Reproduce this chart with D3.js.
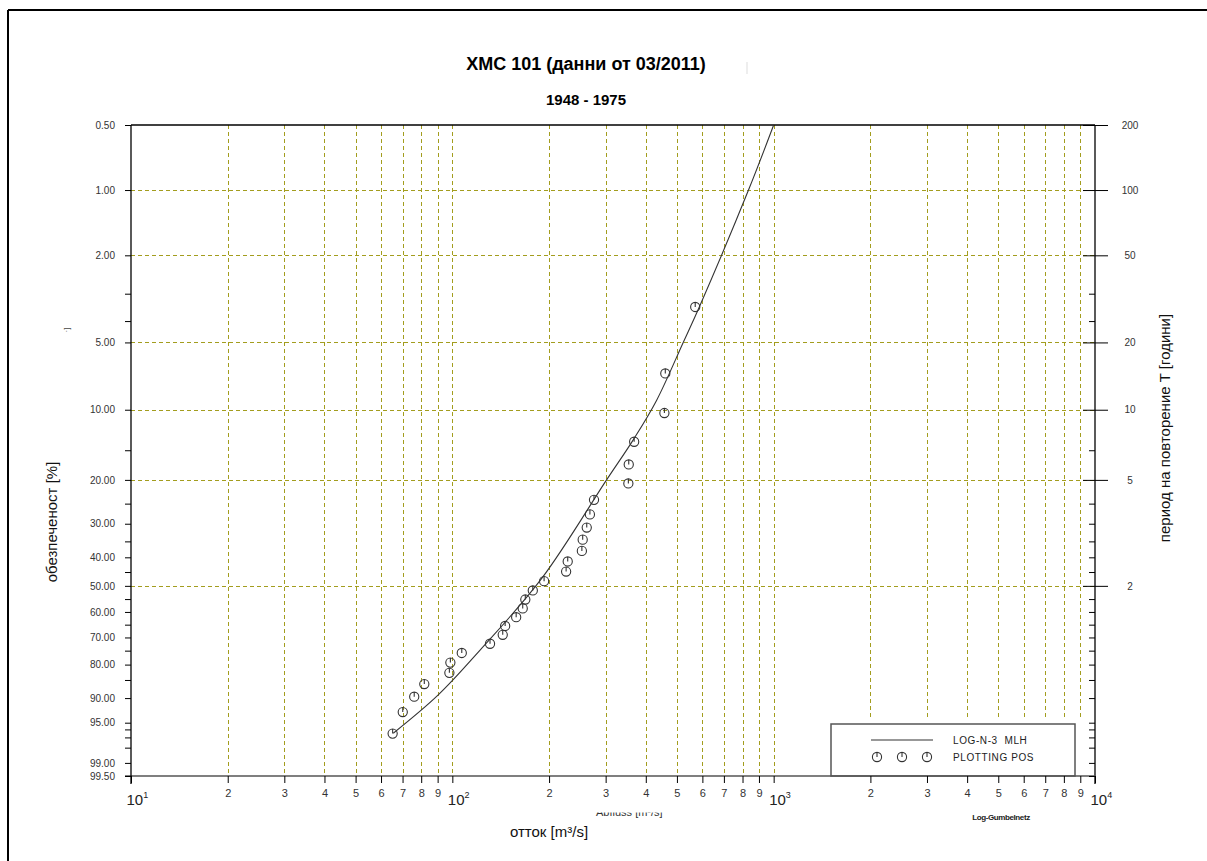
<!DOCTYPE html>
<html>
<head>
<meta charset="utf-8">
<script src="https://cdn.jsdelivr.net/npm/d3@7/dist/d3.min.js"></script>
<style>
body { margin: 0; background: #fff; }
svg { display: block; font-family: "Liberation Sans", Arial, sans-serif; }
</style>
</head>
<body>
<div id="chart"></div>
<script>
// observed annual maxima, plotting positions (exceedance %) and discharges [m3/s]
var obsProb = [3.45, 6.90, 10.34, 13.79, 17.24, 20.69, 24.14, 27.59, 31.03, 34.48, 37.93, 41.38, 44.83, 48.28,
    51.72, 55.17, 58.62, 62.07, 65.52, 68.97, 72.41, 75.86, 79.31, 82.76, 86.21, 89.66, 93.10, 96.55];
var obsQ = [570, 460, 457, 368, 354, 353, 276, 268, 262, 254.5, 253, 228.6, 226, 193,
    178, 168.7, 165.6, 158, 146, 143.5, 131, 107, 98.6, 97.9, 81.8, 76.1, 70.1, 65.2];

// fitted LOG-N-3 MLH curve
var fitQ = [65.5, 90.4, 122, 190, 302, 366, 432, 523, 587, 835, 1000];
var fitProb = [96.5, 89.2, 74.8, 47.2, 20, 13.5, 9.1, 5, 3.45, 1, 0.5];

var probLabels = [0.5, 1, 2, 5, 10, 20, 30, 40, 50, 60, 70, 80, 90, 95, 99, 99.5];
var probMinor = [3, 4, 15, 25, 35, 45, 55, 65, 75, 85, 96, 97, 98];
var probGrid = [1, 2, 5, 10, 20, 50];
var returnPeriods = [200, 100, 50, 20, 10, 5, 2];
var decades = [10, 100, 1000, 10000];
var digits = [2, 3, 4, 5, 6, 7, 8, 9];

var W = 1207, H = 861;
var plotL = 131, plotR = 1095, plotT = 125, plotB = 776;
var gridColor = "#a39d1e";

function gumbel(p) {
    return -Math.log(-Math.log(1 - p / 100));
}

var x = d3.scaleLog().domain([10, 10000]).range([plotL, plotR]);
var y = d3.scaleLinear().domain([gumbel(0.5), gumbel(99.5)]).range([plotT, plotB]);

var svg = d3.select("#chart").append("svg")
    .attr("width", W)
    .attr("height", H);

// outer frame
svg.append("line").attr("x1", 8).attr("x2", W).attr("y1", 10).attr("y2", 10)
    .attr("stroke", "#000").attr("stroke-width", 2);
svg.append("line").attr("x1", 8).attr("x2", 8).attr("y1", 10).attr("y2", H)
    .attr("stroke", "#000").attr("stroke-width", 2);

// vertical grid
var qGrid = [];
decades.slice(0, 3).forEach(function(d, i) {
    if (i > 0) qGrid.push(d);
    digits.forEach(function(k) { qGrid.push(d * k); });
});
qGrid.push(1000);

svg.append("g")
    .attr("shape-rendering", "crispEdges")
    .selectAll("line")
    .data(qGrid)
    .enter().append("line")
    .attr("x1", function(d) { return Math.round(x(d)) + 0.5; })
    .attr("x2", function(d) { return Math.round(x(d)) + 0.5; })
    .attr("y1", plotT)
    .attr("y2", function(d) { return x(d) > 830 ? 720 : plotB; })
    .attr("stroke", gridColor)
    .attr("stroke-dasharray", "4,3");

// horizontal grid
svg.append("g")
    .attr("shape-rendering", "crispEdges")
    .selectAll("line")
    .data(probGrid)
    .enter().append("line")
    .attr("x1", plotL)
    .attr("x2", plotR)
    .attr("y1", function(d) { return Math.round(y(gumbel(d))) + 0.5; })
    .attr("y2", function(d) { return Math.round(y(gumbel(d))) + 0.5; })
    .attr("stroke", gridColor)
    .attr("stroke-dasharray", "4,3");

// legend box
svg.append("rect")
    .attr("x", 831).attr("y", 724).attr("width", 244).attr("height", 52)
    .attr("fill", "#fff").attr("stroke", "#555").attr("stroke-width", 1.5);

// frame of the plot
svg.append("line").attr("x1", plotL).attr("x2", plotR).attr("y1", plotT).attr("y2", plotT)
    .attr("stroke", "#000").attr("stroke-width", 1.3);
svg.append("line").attr("x1", plotR).attr("x2", plotR).attr("y1", plotT).attr("y2", plotB + 8)
    .attr("stroke", "#000").attr("stroke-width", 1.3);
svg.append("line").attr("x1", plotL - 6).attr("x2", plotR).attr("y1", plotB).attr("y2", plotB)
    .attr("stroke", "#555").attr("stroke-width", 1.6);
svg.append("line").attr("x1", plotL).attr("x2", plotL).attr("y1", plotT).attr("y2", plotB + 8)
    .attr("stroke", "#000").attr("stroke-width", 1.3);

// left axis
var yLeft = svg.append("g").attr("transform", "translate(" + plotL + ",0)")
    .call(d3.axisLeft(y)
        .tickValues(probLabels.map(gumbel))
        .tickSize(6)
        .tickPadding(10)
        .tickFormat(function(u) { return (100 * (1 - Math.exp(-Math.exp(-u)))).toFixed(2); }));
var yLeftMinor = svg.append("g").attr("transform", "translate(" + plotL + ",0)")
    .call(d3.axisLeft(y).tickValues(probMinor.map(gumbel)).tickSize(6).tickFormat(""));

// right axis: return period T
var majorP = returnPeriods.map(function(t) { return 100 / t; });
var rightMinor = probLabels.concat(probMinor).filter(function(p) {
    return !majorP.some(function(m) { return Math.abs(m - p) < 1e-6; });
});
var yRight = svg.append("g").attr("transform", "translate(" + plotR + ",0)")
    .call(d3.axisRight(y)
        .tickValues(majorP.map(gumbel))
        .tickSize(13)
        .tickPadding(22)
        .tickFormat(function(u, i) { return returnPeriods[i]; }));
yRight.selectAll("text").attr("text-anchor", "middle");
var yRightBack = svg.append("g").attr("transform", "translate(" + plotR + ",0)")
    .call(d3.axisLeft(y).tickValues(majorP.map(gumbel)).tickSize(12).tickFormat(""));
var yRightMinor = svg.append("g").attr("transform", "translate(" + plotR + ",0)")
    .call(d3.axisLeft(y).tickValues(rightMinor.map(gumbel)).tickSize(6).tickFormat(""));

// bottom axis
var qTicks = [];
decades.forEach(function(d, i) {
    qTicks.push(d);
    if (i < 3) digits.forEach(function(k) { qTicks.push(d * k); });
});
var xAxis = svg.append("g").attr("transform", "translate(0," + plotB + ")")
    .call(d3.axisBottom(x)
        .tickValues(qTicks)
        .tickSize(7)
        .tickPadding(6)
        .tickFormat(function(d) {
            var e = Math.round(Math.log10(d));
            return Math.abs(d - Math.pow(10, e)) < 1e-6 ? "" : Math.round(d / Math.pow(10, Math.floor(Math.log10(d))));
        }));

[yLeft, yLeftMinor, yRight, yRightBack, yRightMinor, xAxis].forEach(function(g) {
    g.select(".domain").remove();
    g.selectAll("line").attr("stroke", "#000");
    g.selectAll("text").attr("fill", "#333").style("font-size", "10px");
});
xAxis.selectAll("text").style("font-size", "11px");

// decade labels 10^n
var decLabel = svg.append("g").selectAll("text")
    .data(decades)
    .enter().append("text")
    .attr("x", function(d) { return x(d) - 4.5; })
    .attr("y", plotB + 29)
    .attr("fill", "#222")
    .style("font-family", "'Liberation Sans Narrow', 'Liberation Sans', Arial, sans-serif")
    .style("font-size", "15px");
decLabel.append("tspan").text("10");
decLabel.append("tspan")
    .attr("dy", -7)
    .style("font-size", "9px")
    .text(function(d) { return Math.round(Math.log10(d)); });

// fitted curve
var fit = fitQ.map(function(q, i) { return { q: q, p: fitProb[i] }; });
var line = d3.line()
    .x(function(d) { return x(d.q); })
    .y(function(d) { return y(gumbel(d.p)); })
    .curve(d3.curveCatmullRom);

svg.append("path")
    .datum(fit)
    .attr("d", line)
    .attr("fill", "none")
    .attr("stroke", "#333")
    .attr("stroke-width", 1.1);

// plotting positions
function symbol(g) {
    g.append("circle").attr("r", 4.6).attr("fill", "none").attr("stroke", "#333").attr("stroke-width", 1.1);
    g.append("line").attr("x1", 0).attr("x2", 0).attr("y1", 0).attr("y2", -4.6)
        .attr("stroke", "#333").attr("stroke-width", 1.1);
}

svg.append("g").selectAll("g")
    .data(obsQ.map(function(q, i) { return { q: q, p: obsProb[i] }; }))
    .enter().append("g")
    .attr("transform", function(d) { return "translate(" + x(d.q) + "," + y(gumbel(d.p)) + ")"; })
    .each(function() { symbol(d3.select(this)); });

// legend
svg.append("line").attr("x1", 871).attr("x2", 933).attr("y1", 740).attr("y2", 740)
    .attr("stroke", "#333").attr("stroke-width", 1.1);
[877, 902, 927].forEach(function(cx) {
    symbol(svg.append("g").attr("transform", "translate(" + cx + ",757)"));
});
svg.append("text").attr("x", 953).attr("y", 744).text("LOG-N-3  MLH")
    .attr("fill", "#222").style("font-size", "10px").style("letter-spacing", "0.6px")
    .style("white-space", "pre");
svg.append("text").attr("x", 953).attr("y", 761).text("PLOTTING POS")
    .attr("fill", "#222").style("font-size", "10px").style("letter-spacing", "0.6px");

// titles
svg.append("text").attr("x", 586).attr("y", 70).attr("text-anchor", "middle")
    .style("font-size", "18px").style("font-weight", "bold")
    .text("ХМС 101 (данни от 03/2011)");
svg.append("line").attr("x1", 747).attr("x2", 747).attr("y1", 62).attr("y2", 74)
    .attr("stroke", "#ddd").attr("stroke-width", 1);
svg.append("text").attr("x", 586).attr("y", 105).attr("text-anchor", "middle")
    .style("font-size", "15px").style("font-weight", "bold")
    .text("1948 - 1975");

svg.append("text").attr("x", 549).attr("y", 837).attr("text-anchor", "middle")
    .style("font-size", "15px").attr("fill", "#111")
    .text("отток [m³/s]");

// clipped remnant of the original axis label
svg.append("clipPath").attr("id", "cut")
    .append("rect").attr("x", 590).attr("y", 812.5).attr("width", 100).attr("height", 6);
svg.append("text").attr("x", 596).attr("y", 816).attr("clip-path", "url(#cut)")
    .style("font-size", "11px").attr("fill", "#333")
    .text("Abfluss [m³/s]");

svg.append("text").attr("x", 1001).attr("y", 820).attr("text-anchor", "middle")
    .style("font-size", "8px").style("font-weight", "bold").style("letter-spacing", "-0.4px")
    .attr("fill", "#222")
    .text("Log-Gumbelnetz");

svg.append("text")
    .attr("transform", "translate(57,522) rotate(-90)")
    .attr("text-anchor", "middle")
    .style("font-size", "15px").attr("fill", "#111")
    .text("обезпеченост [%]");

svg.append("text")
    .attr("transform", "translate(69,330) rotate(-90)")
    .attr("text-anchor", "middle")
    .style("font-size", "8px").attr("fill", "#444")
    .text("·]");

svg.append("text")
    .attr("transform", "translate(1170,428) rotate(-90)")
    .attr("text-anchor", "middle")
    .style("font-size", "15px").attr("fill", "#111")
    .text("период на повторение T [години]");
</script>
</body>
</html>
